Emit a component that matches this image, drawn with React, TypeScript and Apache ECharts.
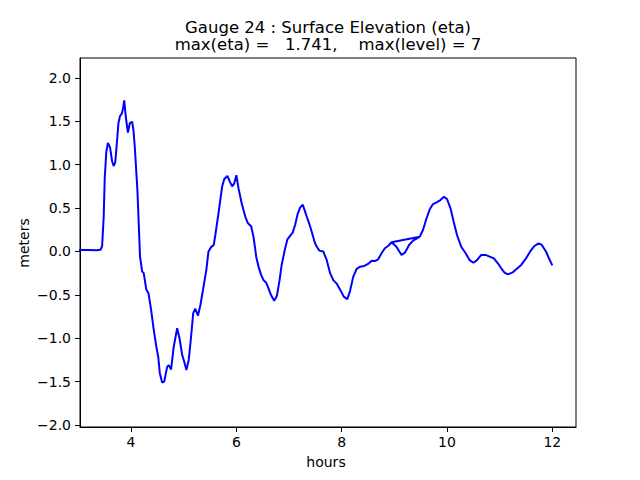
import React, { useEffect, useRef } from "react";
import * as echarts from "echarts";

const titleLine1 = "Gauge 24 : Surface Elevation (eta)";
const titleLine2 = "max(eta) =   1.741,    max(level) = 7";
const xName = "hours";
const yName = "meters";

const xTicks = [4, 6, 8, 10, 12];
const yTicks = [-2.0, -1.5, -1.0, -0.5, 0.0, 0.5, 1.0, 1.5, 2.0];

const hours = [
  3.0, 3.2, 3.35, 3.42, 3.45, 3.48, 3.5, 3.53, 3.56, 3.6, 3.64, 3.67, 3.7, 3.73, 3.76, 3.79,
  3.826, 3.85, 3.87, 3.9, 3.94, 3.977, 4.02, 4.045, 4.07, 4.12, 4.15, 4.17, 4.21, 4.24, 4.29,
  4.33, 4.38, 4.43, 4.48, 4.515, 4.545, 4.59, 4.63, 4.685, 4.716, 4.76, 4.81, 4.875, 4.92,
  4.97, 5.01, 5.05, 5.095, 5.14, 5.18, 5.22, 5.27, 5.316, 5.367, 5.43, 5.47, 5.52, 5.57, 5.6,
  5.66, 5.73, 5.77, 5.83, 5.88, 5.92, 5.96, 6.0, 6.04, 6.1, 6.17, 6.22, 6.28, 6.325, 6.377,
  6.42, 6.47, 6.515, 6.566, 6.61, 6.655, 6.718, 6.77, 6.82, 6.86, 6.926, 6.97, 7.02, 7.07,
  7.115, 7.167, 7.21, 7.26, 7.305, 7.337, 7.37, 7.43, 7.49, 7.527, 7.576, 7.65, 7.716, 7.78,
  7.84, 7.905, 7.97, 8.04, 8.106, 8.157, 8.22, 8.284, 8.35, 8.43, 8.5, 8.57, 8.63, 8.693,
  8.757, 8.82, 8.88, 8.947, 9.483, 8.947, 9.04, 9.136, 9.2, 9.28, 9.356, 9.43, 9.483, 9.545,
  9.61, 9.672, 9.735, 9.81, 9.875, 9.943, 10.0, 10.065, 10.127, 10.19, 10.27, 10.354, 10.43,
  10.5, 10.57, 10.65, 10.733, 10.81, 10.89, 10.966, 11.03, 11.093, 11.155, 11.24, 11.315,
  11.41, 11.5, 11.58, 11.66, 11.74, 11.8, 11.88, 11.945, 12.0,
];

const eta = [
  0.017, 0.017, 0.014, 0.02, 0.06, 0.4, 0.85, 1.15, 1.25, 1.2, 1.04, 0.985, 1.03, 1.25, 1.48, 1.56,
  1.59, 1.66, 1.741, 1.55, 1.37, 1.48, 1.495, 1.4, 1.21, 0.71, 0.25, -0.06, -0.23, -0.25, -0.44,
  -0.48, -0.67, -0.9, -1.1, -1.21, -1.4, -1.51, -1.5, -1.33, -1.31, -1.36, -1.1, -0.885, -1.0,
  -1.19, -1.27, -1.365, -1.25, -0.98, -0.71, -0.66, -0.74, -0.62, -0.44, -0.21, 0.0, 0.05, 0.075, 0.19,
  0.44, 0.75, 0.835, 0.87, 0.8, 0.75, 0.785, 0.88, 0.73, 0.555, 0.4, 0.325, 0.29, 0.17, -0.06,
  -0.175, -0.27, -0.33, -0.36, -0.425, -0.5, -0.567, -0.51, -0.33, -0.155, 0.037, 0.14, 0.18, 0.217,
  0.305, 0.44, 0.505, 0.54, 0.46, 0.4, 0.345, 0.23, 0.1, 0.055, 0.01, 0.0, -0.1, -0.25,
  -0.33, -0.37, -0.44, -0.52, -0.55, -0.46, -0.29, -0.2, -0.175, -0.167, -0.144, -0.106, -0.11, -0.09,
  -0.02, 0.037, 0.063, 0.106, 0.17, 0.106, 0.055, -0.04, -0.014, 0.075, 0.125, 0.152, 0.17, 0.25,
  0.38, 0.486, 0.547, 0.57, 0.593, 0.63, 0.605, 0.5, 0.343, 0.19, 0.055, -0.02, -0.1,
  -0.13, -0.1, -0.04, -0.04, -0.06, -0.08, -0.136, -0.194, -0.244, -0.263, -0.244, -0.205,
  -0.155, -0.08, 0.0, 0.063, 0.094, 0.075, 0.0, -0.09, -0.16,
];

const FONT = "DejaVu Sans";

function fmtY(v: number): string {
  const s = Math.abs(v).toFixed(1);
  return v < -1e-9 ? "\u2212" + s : s;
}

export default function App() {
  const ref = useRef<HTMLDivElement>(null);
  useEffect(() => {
    if (!ref.current) return;
    const chart = echarts.init(ref.current, null, { renderer: "svg" });
    const data = hours.map((h, i) => [h, eta[i]]);
    chart.setOption({
      animation: false,
      backgroundColor: "#ffffff",
      grid: {
        left: 80,
        right: 64,
        top: 58,
        bottom: 53,
        show: true,
        borderColor: "#000000",
        borderWidth: 1,
        backgroundColor: "transparent",
      },
      xAxis: {
        type: "value",
        min: 3.03,
        max: 12.45,
        axisLine: { show: true, onZero: false, lineStyle: { color: "#000", width: 1 } },
        axisTick: { show: true, length: 5, inside: false, customValues: xTicks, lineStyle: { color: "#000" } },
        axisLabel: {
          customValues: xTicks,
          margin: 8,
          color: "#000",
          fontFamily: FONT,
          fontSize: 14,
          formatter: (v: number) => String(v),
        },
        splitLine: { show: false },
      },
      yAxis: {
        type: "value",
        min: -2.023,
        max: 2.23,
        axisLine: { show: true, onZero: false, lineStyle: { color: "#000", width: 1 } },
        axisTick: { show: true, length: 5, inside: false, customValues: yTicks, lineStyle: { color: "#000" } },
        axisLabel: {
          customValues: yTicks,
          margin: 9,
          color: "#000",
          fontFamily: FONT,
          fontSize: 14,
          formatter: (v: number) => fmtY(v),
        },
        splitLine: { show: false },
      },
      graphic: [
        {
          type: "text",
          x: 328,
          y: 27,
          style: { text: titleLine1, fontFamily: FONT, fontSize: 16.5, fill: "#000", textAlign: "center", textVerticalAlign: "middle" },
        },
        {
          type: "text",
          x: 328,
          y: 44.5,
          style: { text: titleLine2, fontFamily: FONT, fontSize: 16.5, fill: "#000", textAlign: "center", textVerticalAlign: "middle" },
        },
        {
          type: "text",
          x: 326,
          y: 462,
          style: { text: xName, fontFamily: FONT, fontSize: 14, fill: "#000", textAlign: "center", textVerticalAlign: "middle" },
        },
        {
          type: "text",
          x: 24,
          y: 243,
          rotation: Math.PI / 2,
          style: { text: yName, fontFamily: FONT, fontSize: 14, fill: "#000", textAlign: "center", textVerticalAlign: "middle" },
        },
      ],
      series: [
        {
          type: "line",
          data,
          showSymbol: false,
          symbol: "none",
          clip: true,
          lineStyle: { color: "#0000ff", width: 2 },
          silent: true,
        },
      ],
    });
    return () => chart.dispose();
  }, []);
  return (
    <div
      ref={ref}
      style={{ position: "fixed", left: 0, top: 0, width: 640, height: 480, background: "#fff" }}
    />
  );
}
